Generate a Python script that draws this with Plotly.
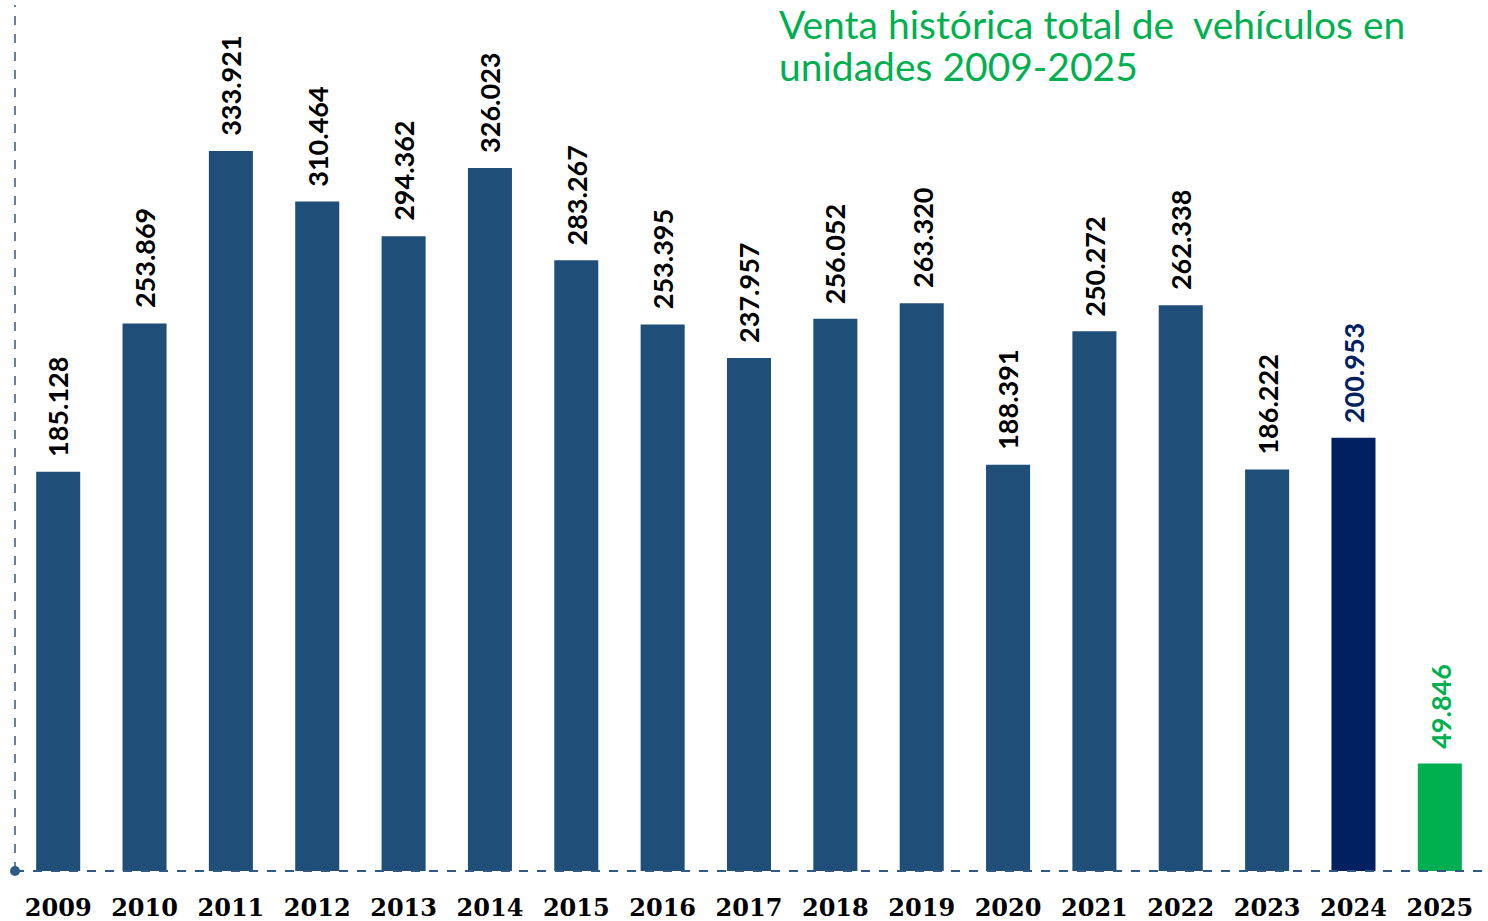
import plotly.graph_objects as go

years = [str(y) for y in range(2009, 2026)]
sales = [185128, 253869, 333921, 310464, 294362, 326023, 283267, 253395, 237957,
         256052, 263320, 188391, 250272, 262338, 186222, 200953, 49846]

bar_colors = ["#1F4E79"] * 15 + ["#002060", "#00B050"]
label_colors = ["#000000"] * 15 + ["#002060", "#00B050"]
title_lines = ["Venta histórica total de  vehículos en", "unidades 2009-2025"]

def fmt(v):
    return f"{v:,}".replace(",", ".")

W, H = 1488, 921
ml, mr = 15, 5
plot_top, plot_bottom = 5, 871
pw = W - ml - mr

fig = go.Figure()
fig.add_trace(go.Bar(x=years, y=sales, marker=dict(color=bar_colors, line=dict(width=0)),
                     width=0.51, hoverinfo="skip"))

annotations = []
for i, (v, c) in enumerate(zip(sales, label_colors)):
    annotations.append(dict(x=i, y=v, xref="x", yref="y", text=fmt(v), showarrow=False,
                            textangle=-90, yanchor="bottom", xanchor="center", yshift=13,
                            font=dict(family="Lato", size=27, color=c, weight="bold")))

for line, center_px in zip(title_lines, [24, 66]):
    annotations.append(dict(xref="paper", yref="paper", x=(777 - ml) / pw,
                            y=(plot_bottom - center_px) / (plot_bottom - plot_top),
                            xanchor="left", yanchor="middle", align="left", showarrow=False,
                            text=line, font=dict(family="Lato", size=39, color="#00B050")))

axis_col = "#2F5A86"
shapes = [
    dict(type="line", xref="paper", yref="paper", x0=0, x1=(W - ml) / pw, y0=0, y1=0,
         line=dict(color=axis_col, width=2, dash="dash")),
    dict(type="line", xref="paper", yref="paper", x0=0, x1=0, y0=0, y1=1,
         line=dict(color=axis_col, width=1.5, dash="dash")),
    dict(type="circle", xref="paper", yref="paper", xsizemode="pixel", ysizemode="pixel",
         xanchor=0, yanchor=0, x0=-5, x1=5, y0=-5, y1=5,
         fillcolor=axis_col, line=dict(width=0)),
]

fig.update_layout(
    width=W, height=H,
    margin=dict(l=ml, r=mr, t=plot_top, b=H - plot_bottom, autoexpand=False),
    plot_bgcolor="white", paper_bgcolor="white",
    showlegend=False,
    annotations=annotations,
    shapes=shapes,
    xaxis=dict(type="category", range=[-0.5, 16.5], showgrid=False, showline=False,
               zeroline=False, ticks="", ticklabelstandoff=20, automargin=False,
               tickfont=dict(family="DejaVu Serif", size=24, color="#000000", weight="bold")),
    yaxis=dict(range=[0, 401600], showgrid=False, showline=False, zeroline=False,
               showticklabels=False, ticks="", automargin=False),
)

fig.write_html("out.html")
